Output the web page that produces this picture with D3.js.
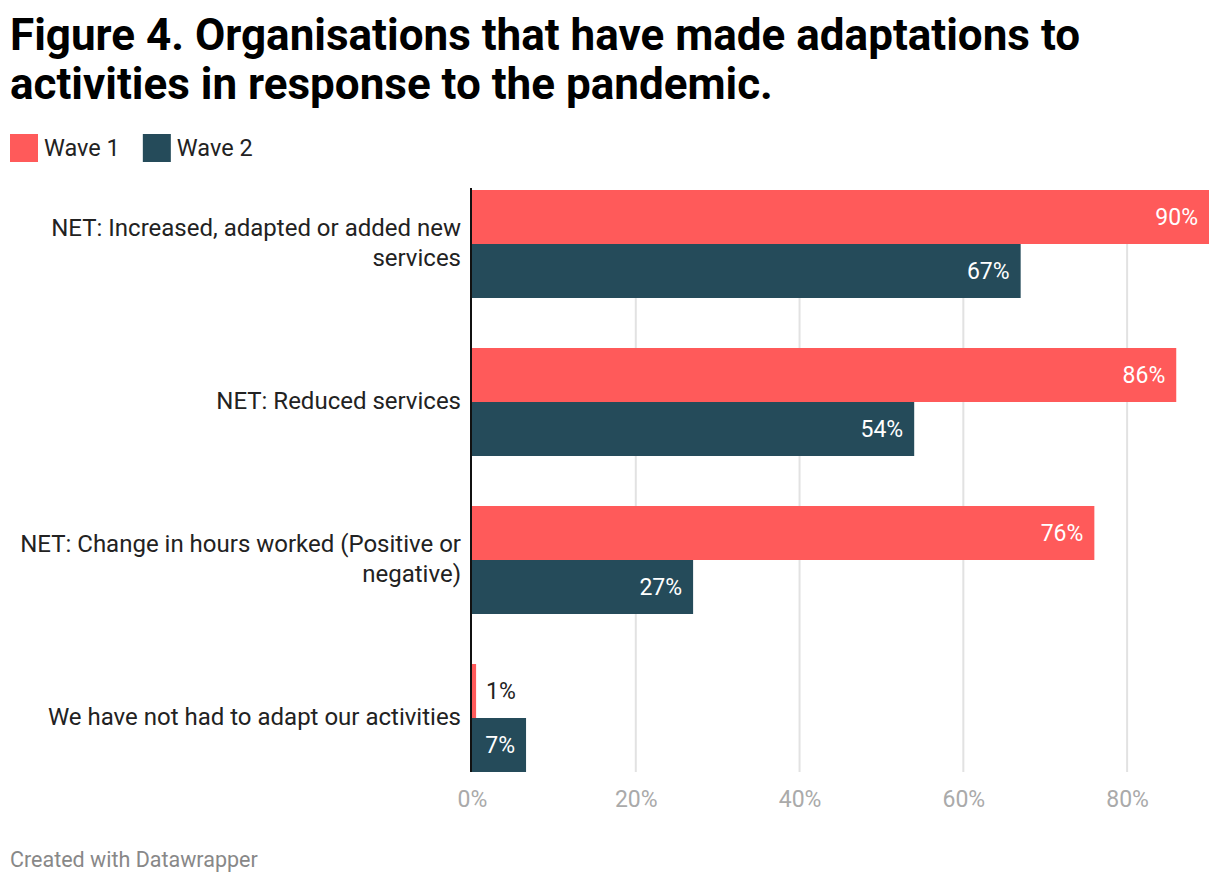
<!DOCTYPE html>
<html><head><meta charset="utf-8">
<script src="https://cdn.jsdelivr.net/npm/d3@7"></script>
<style>body{margin:0;background:#fff;font-family:Roboto,sans-serif;}</style>
</head><body><svg id="c" width="1220" height="884"></svg>
<script>
const categories = [
  ["NET: Increased, adapted or added new", "services"],
  ["NET: Reduced services"],
  ["NET: Change in hours worked (Positive or", "negative)"],
  ["We have not had to adapt our activities"]
];
const seriesNames = ["Wave 1", "Wave 2"];
const wave1 = [90, 86, 76, 0.5];
const wave2 = [67, 54, 27, 6.6];
const tickValues = [0, 20, 40, 60, 80];
const colors = ["#ff5a5a", "#254b5a"];

const svg = d3.select("#c");
// title
const title = svg.append("text").attr("font-weight", 700).attr("font-size", 44).attr("fill", "#000");
title.append("tspan").attr("x", 10).attr("y", 50).text("Figure 4. Organisations that have made adaptations to");
title.append("tspan").attr("x", 10).attr("y", 99).text("activities in response to the pandemic.");

// legend
const lg = svg.append("g");
let lx = 10;
seriesNames.forEach((n, i) => {
  lg.append("rect").attr("x", lx).attr("y", 134).attr("width", 28).attr("height", 28).attr("fill", colors[i]);
  const t = lg.append("text").attr("x", lx + 34).attr("y", 156).attr("font-size", 23.5).attr("fill", "#222").text(n);
  lx += 34 + t.node().getComputedTextLength() + 23;
});

const x = d3.scaleLinear().domain([0, 90]).range([472, 1209]);
const y = d3.scaleBand().domain(d3.range(categories.length)).range([190, 772]).paddingInner(50/158).paddingOuter(0);
const sub = d3.scaleBand().domain([0, 1]).range([0, y.bandwidth()]);

// grid
svg.append("g").selectAll("line").data(tickValues.filter(d => d > 0)).join("line")
  .attr("x1", d => x(d)).attr("x2", d => x(d)).attr("y1", 190).attr("y2", 772)
  .attr("stroke", "#e2e2e2").attr("stroke-width", 2);

// axis labels
const ax = d3.axisBottom(x).tickValues(tickValues).tickFormat(d => d + "%").tickSize(0).tickPadding(0);
const axg = svg.append("g").attr("transform", "translate(0,791)").call(ax);
axg.select(".domain").remove();
axg.selectAll("text").attr("font-size", 23).attr("fill", "#aaa").attr("font-family", "Roboto").attr("dy", "0.71em");

// bars
const data = [wave1, wave2];
data.forEach((vals, s) => {
  const g = svg.append("g");
  vals.forEach((v, i) => {
    const y0 = y(i) + sub(s);
    g.append("rect").attr("x", x(0)).attr("y", y0).attr("width", x(v) - x(0)).attr("height", sub.bandwidth()).attr("fill", colors[s]);
    const inside = (x(v) - x(0)) > 45;
    g.append("text")
      .attr("x", inside ? x(v) - 11 : x(v) + 10)
      .attr("y", y0 + sub.bandwidth() / 2)
      .attr("dy", "0.35em")
      .attr("text-anchor", inside ? "end" : "start")
      .attr("font-size", 23)
      .attr("fill", inside ? "#fff" : "#222")
      .text(Math.round(v) + "%");
  });
});

// baseline
svg.append("line").attr("x1", 471).attr("x2", 471).attr("y1", 188).attr("y2", 772).attr("stroke", "#111").attr("stroke-width", 2);

// category labels
categories.forEach((lines, i) => {
  const cy = y(i) + y.bandwidth() / 2;
  const lh = 30;
  const t = svg.append("text").attr("text-anchor", "end").attr("font-size", 24).attr("fill", "#222");
  lines.forEach((l, j) => {
    t.append("tspan").attr("x", 461).attr("y", cy - 1 + (j - (lines.length - 1) / 2) * lh).attr("dy", "0.35em").text(l);
  });
});

// footer
svg.append("text").attr("x", 10).attr("y", 867).attr("font-size", 21.5).attr("fill", "#888").text("Created with Datawrapper");
</script>
</body></html>
